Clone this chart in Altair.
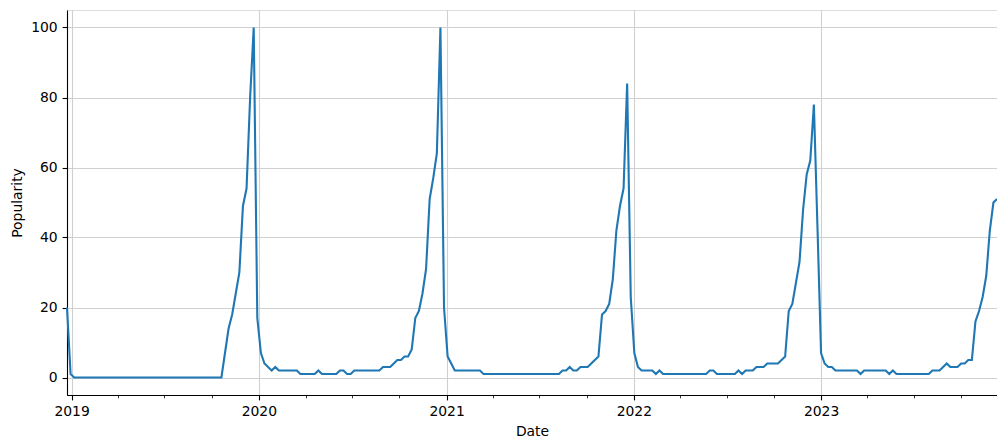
import altair as alt
import pandas as pd
import datetime as dt

# Weekly popularity values (first week 2018-12-23)
start_date = "2018-12-23"
popularity = [
    20, 1, 0, 0, 0, 0, 0, 0, 0, 0,
    0, 0, 0, 0, 0, 0, 0, 0, 0, 0,
    0, 0, 0, 0, 0, 0, 0, 0, 0, 0,
    0, 0, 0, 0, 0, 0, 0, 0, 0, 0,
    0, 0, 0, 0, 7, 14, 18, 24, 30, 49,
    54, 80, 100, 17, 7, 4, 3, 2, 3, 2,
    2, 2, 2, 2, 2, 1, 1, 1, 1, 1,
    2, 1, 1, 1, 1, 1, 2, 2, 1, 1,
    2, 2, 2, 2, 2, 2, 2, 2, 3, 3,
    3, 4, 5, 5, 6, 6, 8, 17, 19, 24,
    31, 51, 57, 64, 100, 20, 6, 4, 2, 2,
    2, 2, 2, 2, 2, 2, 1, 1, 1, 1,
    1, 1, 1, 1, 1, 1, 1, 1, 1, 1,
    1, 1, 1, 1, 1, 1, 1, 1, 2, 2,
    3, 2, 2, 3, 3, 3, 4, 5, 6, 18,
    19, 21, 28, 42, 49, 54, 84, 23, 7, 3,
    2, 2, 2, 2, 1, 2, 1, 1, 1, 1,
    1, 1, 1, 1, 1, 1, 1, 1, 1, 2,
    2, 1, 1, 1, 1, 1, 1, 2, 1, 2,
    2, 2, 3, 3, 3, 4, 4, 4, 4, 5,
    6, 19, 21, 27, 33, 48, 58, 62, 78, 43,
    7, 4, 3, 3, 2, 2, 2, 2, 2, 2,
    2, 1, 2, 2, 2, 2, 2, 2, 2, 1,
    2, 1, 1, 1, 1, 1, 1, 1, 1, 1,
    1, 2, 2, 2, 3, 4, 3, 3, 3, 4,
    4, 5, 5, 16, 19, 23, 29, 42, 50, 51,
]
year_ticks = [2019, 2020, 2021, 2022, 2023]
minor_months = [4, 7, 10]
y_ticks = [0, 20, 40, 60, 80, 100]

d0 = dt.date.fromisoformat(start_date)
dates = [(d0 + dt.timedelta(days=7 * k)).isoformat() for k in range(len(popularity))]
df = pd.DataFrame({"Date": dates, "Popularity": popularity})
d1 = dt.date.fromisoformat(dates[-1])

FONT = "DejaVu Sans"
FS = 13.9
TICK = 4.9
GRID = "#d0d0d0"

x_domain = [
    alt.DateTime(year=d0.year, month=d0.month, date=d0.day, utc=True),
    alt.DateTime(year=d1.year, month=d1.month, date=d1.day, utc=True),
]
x_scale = alt.Scale(type="utc", domain=x_domain, nice=False)
y_scale = alt.Scale(domain=[-5, 105], nice=False, zero=False)

major_values = [alt.DateTime(year=y, month=1, date=1, utc=True) for y in year_ticks]
minor_values = [alt.DateTime(year=y, month=m, date=1, utc=True) for y in year_ticks for m in minor_months]

y_axis = alt.Axis(
    values=y_ticks, title="Popularity", grid=True, gridColor=GRID, gridWidth=1.1,
    tickSize=TICK, tickWidth=1.1, tickColor="black", labelPadding=4.9,
    labelFont=FONT, labelFontSize=FS, labelColor="black",
    titleFont=FONT, titleFontSize=FS, titleFontWeight="normal", titleColor="black",
    titlePadding=6, domainColor="black", domainWidth=1.1,
)

line = alt.Chart(df).mark_line(color="#1f77b4", strokeWidth=2.1).encode(
    x=alt.X("Date:T", scale=x_scale, axis=alt.Axis(
        values=major_values, format="%Y", formatType="utc", orient="bottom",
        title="Date", grid=True, gridColor=GRID, gridWidth=1.1,
        tickSize=TICK, tickWidth=1.1, tickColor="black", labelPadding=4.9,
        labelFont=FONT, labelFontSize=FS, labelColor="black", labelAlign="center",
        labelBaseline="top", labelOverlap=False,
        titleFont=FONT, titleFontSize=FS, titleFontWeight="normal", titleColor="black",
        titlePadding=6, domainColor="black", domainWidth=1.1,
    )),
    y=alt.Y("Popularity:Q", scale=y_scale, axis=y_axis),
)

minor = alt.Chart(df).mark_line(strokeOpacity=0).encode(
    x=alt.X("Date:T", scale=x_scale, axis=alt.Axis(
        values=minor_values, labels=False, orient="bottom", title="",
        grid=False, tickSize=2.8, tickWidth=0.8, tickColor="black",
        domainColor="black", domainWidth=1.1,
    )),
    y=alt.Y("Popularity:Q", scale=y_scale, axis=y_axis),
)

chart = alt.layer(minor, line).resolve_axis(x="independent").properties(
    width=930, height=385,
    autosize=alt.AutoSizeParams(type="none"),
    padding={"left": 59, "top": 2, "right": 0, "bottom": 45},
).configure_view(stroke="black", strokeWidth=1.1).configure(background="white")

chart.save("out.html", embed_options={"renderer": "svg", "actions": False})
